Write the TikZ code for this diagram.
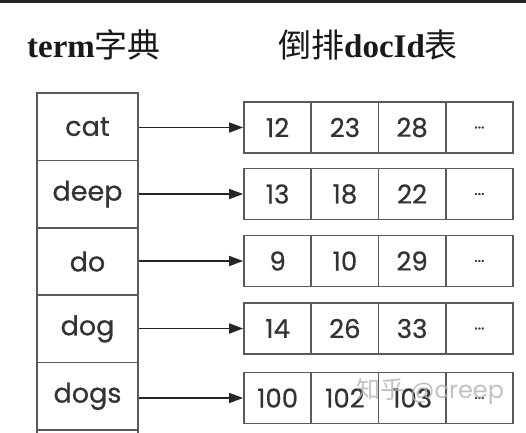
\documentclass[tikz,border=0pt]{standalone}
\usepackage{fontspec}
\setmainfont{Liberation Serif}
\newfontfamily\poppins[FakeBold=0.6,RawFeature={embolden=0.6}]{Poppins}
\newfontfamily\cjk{Noto Sans CJK SC}
\usetikzlibrary{arrows.meta}
\definecolor{boxline}{HTML}{5A5A5A}
\definecolor{txt}{HTML}{333333}
\tikzset{
  termcell/.style={draw=boxline, line width=1.7pt, minimum width=101pt, minimum height=67.4pt,
    inner sep=0pt, font=\poppins\fontsize{27}{27}\selectfont, text=txt},
  idcell/.style={draw=boxline, line width=1.7pt, minimum width=67.25pt, minimum height=51pt,
    inner sep=0pt, font=\poppins\fontsize{26}{26}\selectfont, text=txt},
  ptr/.style={line width=1.6pt, draw=black!85, -{Triangle[length=14pt,width=10pt]}},
  header/.style={inner sep=0pt, font=\fontsize{33}{33}\selectfont, text=black!90}
}
\begin{document}
\begin{tikzpicture}[x=1pt,y=-1pt]
\useasboundingbox (0,0) rectangle (526,432);
\fill[white] (0,0) rectangle (526,432);
\fill[black!85] (0,0) rectangle (526,2.5);
% headers
\node[header, anchor=west] (h1) at (27,45) {\bfseries term{\cjk\mdseries 字典}};
\node[header, anchor=west] (h2) at (278,45) {{\cjk 倒排}\bfseries docId{\cjk\mdseries 表}};
% term column
\begin{scope}
\clip (0,0) rectangle (526,432);
\node[termcell] (t1) at (87.5,126.7) {cat};
\node[termcell] (t2) at (87.5,194.1) {deep};
\node[termcell] (t3) at (87.5,261.5) {do};
\node[termcell] (t4) at (87.5,328.9) {dog};
\node[termcell] (t5) at (87.5,396.3) {dogs};
\node[termcell] (t6) at (87.5,463.7) {};
\end{scope}
% docId rows
\foreach \r/\y/\a/\b/\c in {1/127.5/12/23/28, 2/194/13/18/22, 3/261/9/10/29, 4/328.5/14/26/33, 5/398/100/102/103}{
  \node[idcell] (r\r c1) at (277.6,\y) {\a};
  \node[idcell] (r\r c2) at (344.9,\y) {\b};
  \node[idcell] (r\r c3) at (412.1,\y) {\c};
  \node[idcell] (r\r c4) at (479.4,\y) {\fontsize{16}{16}\selectfont...};
}
% pointers
\foreach \r in {1,...,5}{
  \draw[ptr] (t\r.east |- r\r c1.west) -- (r\r c1.west);
}
% watermark
\node[inner sep=0pt, anchor=west, text=black!30, font=\fontsize{24}{24}\selectfont, opacity=0.8] (wm) at (356,392) {{\cjk 知乎} {\fontspec{Poppins}@creep}};
\end{tikzpicture}
\end{document}
